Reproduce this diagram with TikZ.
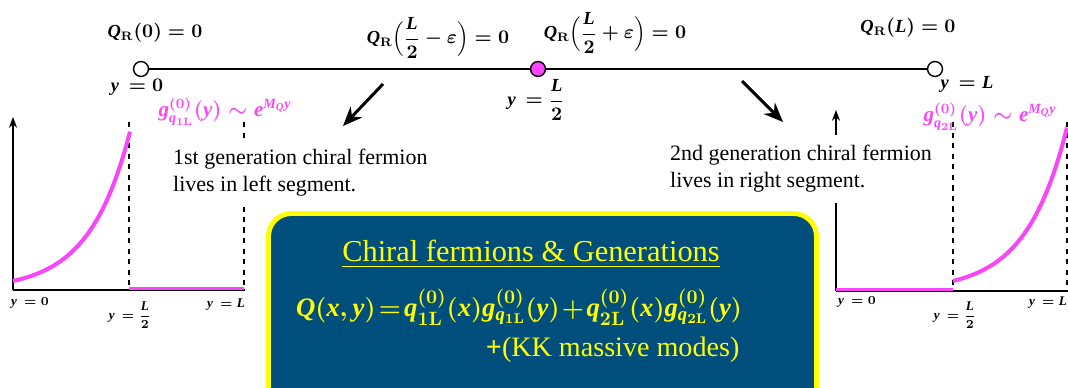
\documentclass[tikz,border=0pt]{standalone}
\usepackage{amsmath}
\usepackage{fontspec}
\setmainfont{Liberation Serif}
\usetikzlibrary{arrows.meta}

\definecolor{zeropink}{RGB}{250,70,250}
\definecolor{panelblue}{RGB}{0,78,124}
\definecolor{panelyellow}{RGB}{255,255,0}
% 数学字母用正文字体（粗斜体）
\newcommand{\mv}[1]{\mathit{#1}}

\begin{document}
\begin{tikzpicture}[x=0.2mm,y=-0.2mm,line width=0.7pt,>=Stealth,
  endpt/.style={circle,draw,fill=white,inner sep=0pt,minimum size=8.5pt,line width=0.8pt},
  midpt/.style={endpt,fill=zeropink},
  bclabel/.style={font=\fontsize{10.5}{12}\selectfont\boldmath},
  axlabel/.style={font=\fontsize{7.5}{8}\selectfont\boldmath,inner sep=1pt},
  modelabel/.style={font=\fontsize{12}{13}\selectfont\boldmath,text=zeropink,inner sep=1pt},
  genote/.style={fill=white,align=left,inner sep=6pt,anchor=north west,
    font=\fontsize{12.5}{15.5}\selectfont},
  bigarrow/.style={-{Stealth[length=11pt,width=9pt]},line width=1.7pt},
  profile/.style={zeropink,line width=2.3pt},
  paneltext/.style={text=panelyellow,font=\fontsize{17.3}{20}\selectfont\boldmath,inner sep=0pt}]
\useasboundingbox (0,0) rectangle (1068,388);
\clip (0,0) rectangle (1068,388);
% ---------- 区间 [0,L] ----------
\node[endpt] (y0) at (141,69) {};
\node[midpt] (yhalf) at (538,69) {};
\node[endpt] (yL) at (935,69) {};
\draw (y0) -- (yhalf) -- (yL);
\node[bclabel] (bc0) at (155,33) {$\mv{Q}_{\mathbf{R}}(0)=0$};
\node[bclabel] (bcminus) at (438,38) {$\mv{Q}_{\mathbf{R}}\Bigl(\dfrac{\mv{L}}{2}-\varepsilon\Bigr)=0$};
\node[bclabel] (bcplus) at (615,33) {$\mv{Q}_{\mathbf{R}}\Bigl(\dfrac{\mv{L}}{2}+\varepsilon\Bigr)=0$};
\node[bclabel] (bcL) at (908,28) {$\mv{Q}_{\mathbf{R}}(\mv{L})=0$};
\node[bclabel] (ly0) at (137,87) {$\mv{y}\,=0$};
\node[bclabel] (lyhalf) at (536,100) {$\mv{y}\,=\dfrac{\mv{L}}{2}$};
\node[bclabel] (lyL) at (967,84) {$\mv{y}\,=\mv{L}$};
% 两个斜箭头
\coordinate (lefttail) at (383,84);
\coordinate (lefthead) at (343,126);
\coordinate (righttail) at (742,81);
\coordinate (righthead) at (783,122);
\draw[bigarrow] (lefttail) -- (lefthead);
\draw[bigarrow] (righttail) -- (righthead);
% ---------- 左段：第一代 ----------
\foreach \xd in {129,244}{
  \draw[dashed,line width=0.6pt] (\xd,122) -- (\xd,290);
}
\draw[->] (13,290) -- (13,117);
\draw (13,290) -- (245,290);
\draw[profile] plot[domain=0:117,samples=40,smooth] ({13+\x},{290-9*exp(0.0245*\x)});
\draw[profile,line width=1.8pt] (129,288.5) -- (244,288.5);
\node[axlabel] (a0) at (30,303) {$\mv{y}\,=0$};
\node[axlabel] (ahalf) at (130,315) {$\mv{y}\,=\dfrac{\mv{L}}{2}$};
\node[axlabel] (aL) at (226,305) {$\mv{y}\,=\mv{L}$};
\node[modelabel] (g1) at (225,112) {$\mv{g}^{(0)}_{\mv{q}_{\mathbf{1L}}}(\mv{y})\sim \mv{e}^{\mv{M}_{\mv{Q}}\mv{y}}$};
\node[genote] (gen1) at (162,138) {1st generation chiral fermion\\lives in left segment.};
% ---------- 右段：第二代 ----------
\foreach \xd in {953,1067}{
  \draw[dashed,line width=0.6pt] (\xd,122) -- (\xd,291);
}
\draw[->] (836,291) -- (836,110);
\draw (836,291) -- (1068,291);
\draw[profile,line width=1.8pt] (836,289.5) -- (953,289.5);
\draw[profile] plot[domain=0:114,samples=40,smooth] ({953+\x},{291-10*exp(0.0245*\x)});
\node[axlabel] (b0) at (857,302) {$\mv{y}\,=0$};
\node[axlabel] (bhalf) at (955,315) {$\mv{y}\,=\dfrac{\mv{L}}{2}$};
\node[axlabel] (bL) at (1048,303) {$\mv{y}\,=\mv{L}$};
\node[modelabel] (g2) at (990,117) {$\mv{g}^{(0)}_{\mv{q}_{\mathbf{2L}}}(\mv{y})\sim \mv{e}^{\mv{M}_{\mv{Q}}\mv{y}}$};
\node[genote] (gen2) at (659,134) {2nd generation chiral fermion\\lives in right segment.};
% ---------- 中央面板 ----------
\draw[draw=panelyellow,fill=panelblue,line width=2.8pt,rounded corners=13pt]
  (268.5,213.5) rectangle (816.5,430);
\node[paneltext,anchor=base] (title) at (531,262) {\underline{Chiral fermions \& Generations}};
\node[paneltext,anchor=base,font=\fontsize{15.2}{18}\selectfont\boldmath] (expand) at (519,317)
  {$\thickmuskip=2mu \medmuskip=1.5mu
   \mv{Q}(\mv{x},\mv{y})=\mv{q}^{(0)}_{\mathbf{1L}}(\mv{x})\mv{g}^{(0)}_{\mv{q}_{\mathbf{1L}}}(\mv{y})+\mv{q}^{(0)}_{\mathbf{2L}}(\mv{x})\mv{g}^{(0)}_{\mv{q}_{\mathbf{2L}}}(\mv{y})$};
\node[paneltext,anchor=base east,font=\fontsize{16}{20}\selectfont] (kk) at (740,357) {\textbf{+}(KK massive modes)};
\end{tikzpicture}
\end{document}
